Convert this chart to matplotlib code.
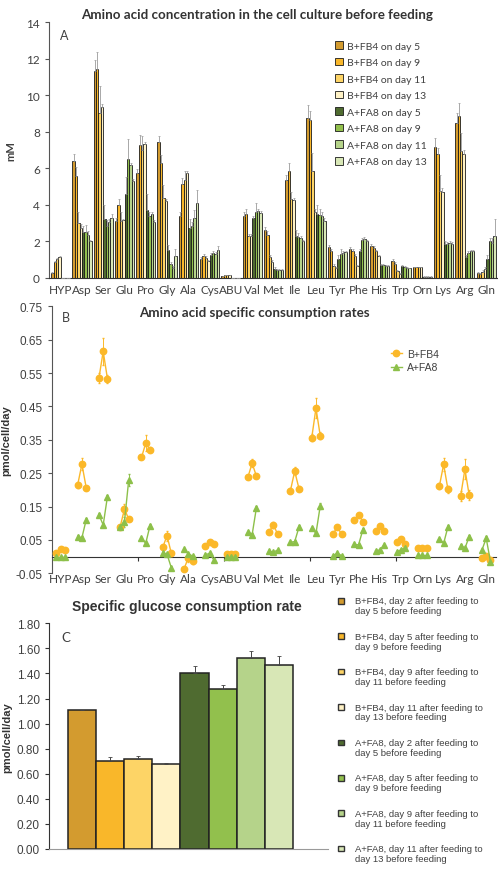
import numpy as np
import matplotlib
matplotlib.use("Agg")
import matplotlib.pyplot as plt
from matplotlib.lines import Line2D
from matplotlib.patches import Rectangle

# amino acids on the x axis of panels A and B
amino = ["HYP", "Asp", "Ser", "Glu", "Pro", "Gly", "Ala", "Cys", "ABU", "Val", "Met",
         "Ile", "Leu", "Tyr", "Phe", "His", "Trp", "Orn", "Lys", "Arg", "Gln"]

# panel A: concentration (mM) before feeding
b_day5 = [0.3, 6.4, 11.3, 3.1, 5.75, 7.45, 3.4, 1.05, 0.1, 3.4, 2.6, 5.35, 8.75, 1.7, 1.6, 1.75, 0.95, 0.6, 7.15, 8.5, 0.3]
b_day9 = [0.9, 5.6, 11.45, 4.0, 7.25, 6.3, 5.15, 1.2, 0.15, 3.5, 2.35, 5.85, 8.65, 1.5, 1.5, 1.65, 0.75, 0.6, 6.8, 8.85, 0.2]
b_day11 = [1.05, 3.0, 9.0, 3.1, 7.0, 4.4, 5.35, 1.1, 0.15, 2.3, 1.15, 4.3, 5.85, 0.65, 1.2, 1.45, 0.4, 0.6, 4.75, 6.95, 0.35]
b_day13 = [1.15, 2.75, 9.35, 3.15, 7.35, 4.2, 5.75, 0.95, 0.15, 2.3, 0.9, 4.25, 3.6, 0.55, 0.65, 1.2, 0.2, 0.6, 4.7, 6.8, 0.5]
a_day5 = [0, 2.5, 3.2, 4.6, 3.7, 1.55, 2.75, 1.25, 0, 3.3, 0.5, 2.3, 3.5, 1.05, 1.5, 0.73, 0.65, 0.08, 1.85, 1.15, 1.05]
a_day9 = [0, 2.5, 2.85, 6.5, 3.4, 0.75, 2.85, 1.35, 0, 3.6, 0.45, 2.25, 3.45, 1.3, 2.1, 0.7, 0.6, 0.08, 1.85, 1.35, 2.0]
a_day11 = [0, 2.35, 3.05, 6.2, 3.5, 0.55, 3.3, 1.3, 0, 3.65, 0.45, 2.2, 3.4, 1.35, 2.15, 0.68, 0.55, 0.08, 1.9, 1.45, 1.9]
a_day13 = [0, 2.0, 3.3, 5.3, 3.05, 1.2, 4.1, 1.55, 0, 3.55, 0.45, 2.0, 3.1, 1.4, 2.0, 0.66, 0.52, 0.08, 1.85, 1.45, 2.3]

err_b5 = [0.05, 0.4, 0.6, 0.2, 0.2, 0.3, 0.2, 0.1, 0.02, 0.2, 0.2, 0.3, 0.7, 0.1, 0.1, 0.1, 0.1, 0.02, 0.5, 0.5, 0.05]
err_b9 = [0.05, 0.45, 0.9, 0.3, 0.55, 0.45, 0.3, 0.1, 0.02, 0.25, 0.2, 0.45, 0.5, 0.1, 0.1, 0.1, 0.1, 0.02, 0.3, 0.7, 0.05]
err_b11 = [0.05, 0.6, 1.5, 0.5, 0.75, 0.7, 0.5, 0.1, 0.02, 0.1, 0.1, 0.4, 1.0, 0.1, 0.1, 0.1, 0.05, 0.02, 0.9, 1.0, 0.1]
err_b13 = [0.05, 0.2, 0.15, 0.1, 0.1, 0.1, 0.1, 0.05, 0.02, 0.1, 0.1, 0.1, 0.2, 0.05, 0.05, 0.05, 0.05, 0.02, 0.2, 0.2, 0.1]
err_a5 = [0, 0.35, 0.8, 0.9, 0.9, 0.25, 0.5, 0.1, 0, 0.1, 0.1, 0.3, 0.5, 0.2, 0.1, 0.05, 0.05, 0.02, 0.2, 0.1, 0.2]
err_a9 = [0, 0.4, 0.3, 1.1, 0.2, 0.1, 0.2, 0.1, 0, 0.5, 0.05, 0.2, 0.3, 0.3, 0.1, 0.05, 0.05, 0.02, 0.1, 0.1, 0.2]
err_a11 = [0, 0.2, 0.2, 0.1, 0.1, 0.1, 0.4, 0.1, 0, 0.1, 0.05, 0.1, 0.2, 0.1, 0.1, 0.05, 0.05, 0.02, 0.1, 0.1, 0.3]
err_a13 = [0, 0.1, 0.2, 0.1, 0.1, 0.4, 0.7, 0.2, 0, 0.1, 0.05, 0.1, 0.2, 0.1, 0.1, 0.05, 0.05, 0.02, 0.1, 0.1, 0.9]

conc_labels = ["B+FB4 on day 5", "B+FB4 on day 9", "B+FB4 on day 11", "B+FB4 on day 13",
               "A+FA8 on day 5", "A+FA8 on day 9", "A+FA8 on day 11", "A+FA8 on day 13"]

# panel B: specific consumption rates (pmol/cell/day), three feeding intervals per amino acid
rate_b = [(0.012, 0.022, 0.02), (0.215, 0.277, 0.207), (0.535, 0.615, 0.533), (0.09, 0.143, 0.112),
          (0.297, 0.34, 0.32), (0.028, 0.063, 0.01), (-0.037, -0.003, -0.013), (0.033, 0.044, 0.038),
          (0.007, 0.007, 0.007), (0.238, 0.28, 0.241), (0.075, 0.095, 0.067), (0.198, 0.256, 0.204),
          (0.356, 0.445, 0.362), (0.067, 0.089, 0.067), (0.109, 0.126, 0.105), (0.078, 0.092, 0.077),
          (0.045, 0.052, 0.039), (0.027, 0.027, 0.027), (0.212, 0.276, 0.202), (0.182, 0.262, 0.184),
          (-0.003, 0.003, -0.01)]
rate_a = [(0, 0, 0), (0.06, 0.057, 0.11), (0.125, 0.095, 0.18), (0.09, 0.105, 0.23),
          (0.055, 0.04, 0.093), (0.012, 0.007, -0.033), (0.022, 0.008, 0.002), (0.005, 0.01, -0.01),
          (0, 0, 0), (0.074, 0.066, 0.146), (0.017, 0.013, 0.02), (0.043, 0.045, 0.088),
          (0.085, 0.07, 0.152), (0.003, 0.01, 0.003), (0.037, 0.035, 0.08), (0.017, 0.02, 0.035),
          (0.015, 0.02, 0.027), (0.005, 0.005, 0.005), (0.053, 0.04, 0.089), (0.033, 0.025, 0.06),
          (0.02, 0.055, -0.015)]
rate_err_b = [(0.003, 0.004, 0.003), (0.008, 0.018, 0.006), (0.015, 0.04, 0.012), (0.006, 0.015, 0.006),
              (0.006, 0.025, 0.008), (0.006, 0.015, 0.008), (0.005, 0.012, 0.01), (0.004, 0.004, 0.004),
              (0.002, 0.002, 0.002), (0.006, 0.012, 0.006), (0.004, 0.008, 0.004), (0.008, 0.012, 0.008),
              (0.01, 0.03, 0.01), (0.004, 0.006, 0.004), (0.004, 0.006, 0.004), (0.004, 0.006, 0.004),
              (0.004, 0.006, 0.004), (0.002, 0.002, 0.002), (0.008, 0.02, 0.01), (0.015, 0.03, 0.015),
              (0.005, 0.006, 0.005)]
rate_err_a = [(0, 0, 0), (0.004, 0.004, 0.006), (0.006, 0.006, 0.006), (0.006, 0.015, 0.018),
              (0.004, 0.004, 0.006), (0.004, 0.004, 0.006), (0.004, 0.004, 0.004), (0.004, 0.004, 0.004),
              (0, 0, 0), (0.004, 0.004, 0.006), (0.003, 0.003, 0.003), (0.004, 0.004, 0.006),
              (0.005, 0.005, 0.008), (0.003, 0.003, 0.003), (0.004, 0.004, 0.006), (0.003, 0.003, 0.003),
              (0.003, 0.003, 0.003), (0.002, 0.002, 0.002), (0.004, 0.004, 0.006), (0.004, 0.004, 0.006),
              (0.004, 0.006, 0.004)]

# panel C: specific glucose consumption rate
glc_rate = [1.11, 0.705, 0.72, 0.675, 1.40, 1.28, 1.52, 1.47]
glc_err = [0.0, 0.03, 0.02, 0.01, 0.06, 0.03, 0.06, 0.07]
glc_labels = ["B+FB4, day 2 after feeding to\nday 5 before feeding",
              "B+FB4, day 5 after feeding to\nday 9 before feeding",
              "B+FB4, day 9 after feeding to\nday 11 before feeding",
              "B+FB4, day 11 after feeding to\nday 13 before feeding",
              "A+FA8, day 2 after feeding to\nday 5 before feeding",
              "A+FA8, day 5 after feeding to\nday 9 before feeding",
              "A+FA8, day 9 after feeding to\nday 11 before feeding",
              "A+FA8, day 11 after feeding to\nday 13 before feeding"]

colors = ["#D39B2F", "#F9B72A", "#FDD466", "#FFF2C6", "#4F6B30", "#92C04D", "#B5D38A", "#D8E7B6"]
orange, green = "#FBB829", "#8DC04A"
grey_txt = "#404040"

W, H = 498, 870
def fx(px):
    return px / W
def fy(py):
    return 1 - py / H

fig = plt.figure(figsize=(W / 100, H / 100), dpi=100)
idx = np.arange(len(amino))

# ---- A: grouped bars
axA = fig.add_axes([fx(49), fy(279), fx(448), 256 / H])
series = [b_day5, b_day9, b_day11, b_day13, a_day5, a_day9, a_day11, a_day13]
errs = [err_b5, err_b9, err_b11, err_b13, err_a5, err_a9, err_a11, err_a13]
w = 0.1125
for k, (vals, e) in enumerate(zip(series, errs)):
    xs = idx + (k - 3.5) * w
    axA.bar(xs, vals, width=w, color=colors[k], edgecolor="#1a1a1a", linewidth=0.6,
            label=conc_labels[k], zorder=2)
    axA.errorbar(xs, vals, yerr=[np.zeros(len(e)), e], fmt="none", ecolor="#9a9a9a",
                 elinewidth=0.6, capsize=1, capthick=0.5, zorder=3)
axA.set_xlim(-0.55, 20.51)
axA.set_ylim(0, 14)
axA.set_yticks(np.arange(0, 15, 2))
axA.set_xticks(idx)
axA.set_xticklabels(amino, family="Lato", fontsize=8.5, color=grey_txt)
for t in axA.get_yticklabels():
    t.set_family("Lato")
axA.tick_params(axis="y", labelsize=8.5, labelcolor=grey_txt, length=3, width=0.8, color="#555")
axA.tick_params(axis="x", length=0, pad=4)
for s in ["top", "right"]:
    axA.spines[s].set_visible(False)
axA.spines["left"].set_color("#555")
axA.spines["bottom"].set_color("#333")
axA.set_ylabel("mM", family="Lato", fontweight="bold", fontsize=8, color=grey_txt, labelpad=7)
axA.text(0.025, 0.935, "A", transform=axA.transAxes, family="Lato", fontsize=9, color=grey_txt)
leg = axA.legend(loc="upper left", bbox_to_anchor=(fx(330 - 49) / fx(448), 1 - 14 / 256),
                 frameon=False, prop={"family": "Lato", "size": 7.5}, handlelength=0.75,
                 handleheight=0.75, handletextpad=0.35, labelspacing=0.68, borderpad=0)
for t in leg.get_texts():
    t.set_color(grey_txt)
fig.text(fx(257), fy(15), "Amino acid concentration in the cell culture before feeding",
         ha="center", va="center", family="Lato", fontweight="bold", fontsize=9.6, color="#333")

# ---- B: consumption rates
axB = fig.add_axes([fx(51.7), fy(574.3), fx(444.3), 267 / H])
offs = np.array([-0.2, 0.0, 0.2])
for i in idx:
    axB.errorbar(i + offs, rate_b[i], yerr=rate_err_b[i], color=orange, marker="o", ms=4.6,
                 lw=1.0, elinewidth=0.7, capsize=1, zorder=3)
    axB.errorbar(i + offs, rate_a[i], yerr=rate_err_a[i], color=green, marker="^", ms=4.6,
                 lw=1.0, elinewidth=0.7, capsize=1, zorder=3)
axB.set_xlim(-0.42, 20.46)
axB.set_ylim(-0.05, 0.75)
yt = np.round(np.arange(-0.05, 0.76, 0.1), 2)
axB.set_yticks(yt)
axB.set_yticklabels([f"{v:.2f}" for v in yt], family="Liberation Sans", fontsize=8.5, color=grey_txt)
axB.tick_params(axis="y", length=3, width=0.8, color="#555")
axB.spines["bottom"].set_position(("data", 0))
for s in ["top", "right"]:
    axB.spines[s].set_visible(False)
axB.spines["left"].set_color("#555")
axB.spines["bottom"].set_color("#333")
axB.set_xticks(np.arange(3.62, 20.5, 4.04))
axB.set_xticklabels([])
axB.set_xticks(idx, minor=True)
axB.set_xticklabels(amino, minor=True, family="Lato", fontsize=8.5, color=grey_txt)
axB.tick_params(axis="x", which="major", length=3, width=0.8, direction="out", color="#333")
axB.tick_params(axis="x", which="minor", length=0, pad=12)
axB.set_ylabel("pmol/cell/day", family="Liberation Sans", fontweight="bold", fontsize=8,
               color="#333", labelpad=3)
axB.text(0.022, 0.945, "B", transform=axB.transAxes, family="Lato", fontsize=9, color=grey_txt)
handles = [Line2D([], [], color=orange, marker="o", ms=4.6, lw=1.0),
           Line2D([], [], color=green, marker="^", ms=4.6, lw=1.0)]
legB = axB.legend(handles, ["B+FB4", "A+FA8"], loc="upper left",
                  bbox_to_anchor=(fx(386 - 51.7) / fx(444.3), 1 - 37 / 267), frameon=False,
                  prop={"family": "Liberation Sans", "size": 7.5}, handlelength=1.0,
                  handletextpad=0.5, labelspacing=0.35, borderpad=0)
for t in legB.get_texts():
    t.set_color(grey_txt)
fig.text(fx(254), fy(313), "Amino acid specific consumption rates", ha="center", va="center",
         family="Lato", fontweight="bold", fontsize=9.6, color="#333")

# ---- C: glucose consumption
axC = fig.add_axes([fx(49), fy(850), fx(279), 225.7 / H])
xc = np.arange(len(glc_rate))
axC.bar(xc, glc_rate, width=1.0, color=colors, edgecolor="#222", linewidth=1.1, zorder=2)
axC.errorbar(xc, glc_rate, yerr=[np.zeros(len(glc_err)), glc_err], fmt="none", ecolor="#444",
             elinewidth=0.7, capsize=1.5, capthick=0.6, zorder=3)
axC.set_xlim(-1.176, 8.746)
axC.set_ylim(0, 1.8)
ytc = np.round(np.arange(0, 1.81, 0.2), 2)
axC.set_yticks(ytc)
axC.set_yticklabels([f"{v:.2f}" for v in ytc], family="Liberation Sans", fontsize=8.5, color=grey_txt)
axC.tick_params(axis="y", length=3, width=0.8, color="#333")
axC.set_xticks([])
for s in ["top", "right"]:
    axC.spines[s].set_visible(False)
axC.spines["left"].set_color("#333")
axC.spines["bottom"].set_color("#9a9a9a")
axC.set_ylabel("pmol/cell/day", family="Liberation Sans", fontweight="bold", fontsize=8,
               color="#333", labelpad=3)
axC.text(0.045, 0.92, "C", transform=axC.transAxes, family="Lato", fontsize=9.5, color=grey_txt)
fig.text(fx(187), fy(607), "Specific glucose consumption rate", ha="center", va="center",
         family="Liberation Sans", fontweight="bold", fontsize=10, color="#333")

# legend for C: square key next to the first line of each two-line entry
row_step = 35.4
for k, (lab, c) in enumerate(zip(glc_labels, colors)):
    y_top = 597.5 + k * row_step
    fig.add_artist(Rectangle((fx(338), fy(y_top + 7)), 5.5 / W, 5.5 / H, transform=fig.transFigure,
                             facecolor=c, edgecolor="#333", linewidth=1.0))
    fig.text(fx(355), fy(y_top), lab, ha="left", va="top", family="Liberation Sans",
             fontsize=6.8, color=grey_txt, linespacing=1.1)

fig.savefig("out.png", dpi=100)
